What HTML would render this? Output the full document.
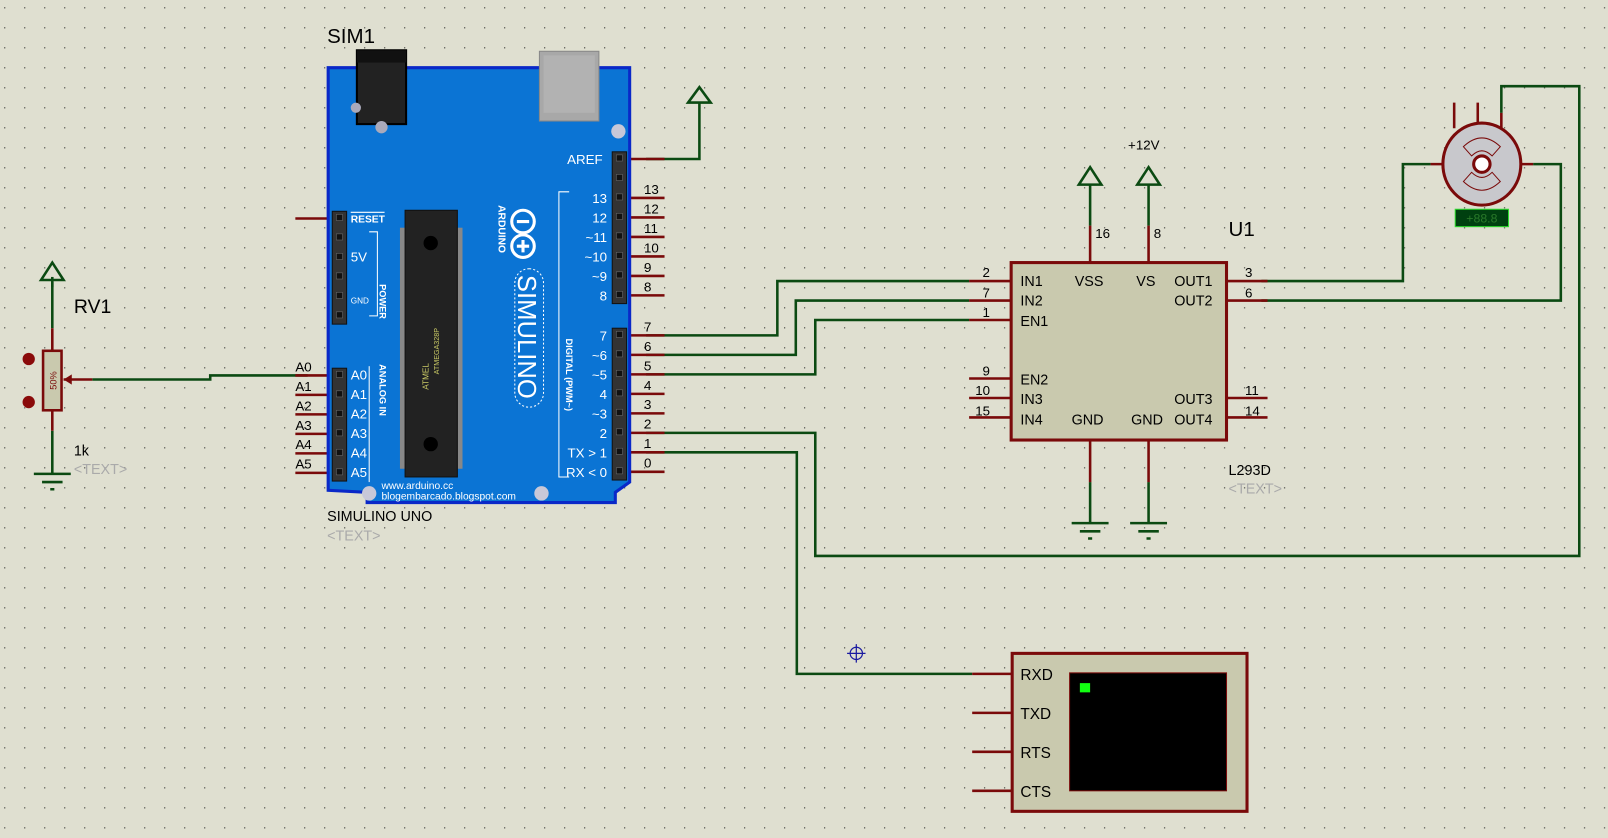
<!DOCTYPE html>
<html><head><meta charset="utf-8"><style>
html,body{margin:0;padding:0;background:#dfdfd0;overflow:hidden}
svg{display:block}
text{font-family:"Liberation Sans",sans-serif}
</style></head><body>
<svg width="1608" height="838" viewBox="0 0 1568 817" preserveAspectRatio="none" xmlns="http://www.w3.org/2000/svg">
<defs>
<pattern id="g" width="19.5" height="19.5" patternUnits="userSpaceOnUse" x="4" y="7">
<rect x="0" y="0" width="1.2" height="1.2" fill="#50504a"/>
</pattern>
</defs>
<rect width="1568" height="817" fill="#dfdfd0"/>
<rect width="1568" height="817" fill="url(#g)"/>

<g fill="none" stroke-width="2.5">
<!-- green wires -->
<g stroke="#0b4a12">
<polyline points="630,155 682,155 682,100"/>
<polyline points="630,327 758,327 758,274 945,274"/>
<polyline points="630,346 776,346 776,293 945,293"/>
<polyline points="630,365 795,365 795,312 945,312"/>
<polyline points="630,422 795,422 795,542 1540,542 1540,84 1464,84 1464,110"/>
<polyline points="630,441 777,441 777,657 948,657"/>
<polyline points="1230,274 1368,274 1368,160 1395,160"/>
<polyline points="1230,293 1522,293 1522,160 1495,160"/>
<polyline points="1063,220 1063,180"/><polyline points="1120,220 1120,180"/>
<polyline points="1063,470 1063,510"/><polyline points="1120,470 1120,510"/>
<polyline points="51,280 51,275"/>
<polyline points="51,320 51,270"/>
<polyline points="51,420 51,462"/>
<polyline points="90,370 205,370 205,366 300,366"/>
<path d="M1052,180 L1063,163 L1074,180 Z M1109,180 L1120,163 L1131,180 Z M671,100 L682,85 L693,100 Z M40,273 L51,256 L62,273 Z" />
<path d="M1045,510 H1081 M1053,518 H1073 M1061,525 H1065 M1102,510 H1138 M1110,518 H1130 M1118,525 H1122 M33,462 H69 M41,470 H61 M49,477 H53"/>
</g>
<!-- red stubs -->
<g stroke="#7a0a0a">
<path d="M610,155 H648 M610,193 H648 M610,212 H648 M610,231 H648 M610,250 H648 M610,269 H648 M610,288 H648"/>
<path d="M610,327 H648 M610,346 H648 M610,365 H648 M610,384 H648 M610,403 H648 M610,422 H648 M610,441 H648 M610,460 H648"/>
<path d="M288,213 H326 M288,366 H326 M288,385 H326 M288,404 H326 M288,423 H326 M288,442 H326 M288,461 H326"/>
<path d="M945,274 H985 M945,293 H985 M945,312 H985 M945,369 H985 M945,388 H985 M945,407 H985"/>
<path d="M1196,274 H1236 M1196,293 H1236 M1196,388 H1236 M1196,407 H1236"/>
<path d="M1063,220 V256 M1120,220 V256 M1063,429 V470 M1120,429 V470"/>
<path d="M948,657 H987 M948,695 H987 M948,733 H987 M948,771 H987"/>
<path d="M51,320 V342 M51,400 V420 M62,370 H90"/>
<path d="M1418,100 V125 M1441,100 V125 M1464,110 V125 M1395,160 H1410 M1480,160 H1495"/>
</g>
</g>

<!-- Arduino -->
<path d="M320,66 H614 V470 L600,480 V490 H358 V480 L320,478 Z" fill="#0b74d4" stroke="#0a28c8" stroke-width="3"/>
<rect x="348" y="49" width="48" height="72" fill="#222" stroke="#000" stroke-width="2"/>
<rect x="348" y="49" width="48" height="12" fill="#111"/>
<circle cx="372" cy="124" r="6" fill="#aab"/><circle cx="347" cy="105" r="5" fill="#aab"/>
<rect x="526" y="50" width="58" height="68" fill="#a8a8a8" stroke="#888"/>
<rect x="530" y="54" width="50" height="56" fill="#b2b2b2"/>
<circle cx="603" cy="128" r="7" fill="#c8c8d8"/>
<circle cx="360" cy="481" r="7" fill="#c8c8d8"/><circle cx="528" cy="481" r="7" fill="#c8c8d8"/>
<!-- headers -->
<rect x="597" y="148" width="14" height="148" fill="#333" stroke="#111"/>
<rect x="597" y="320" width="14" height="148" fill="#333" stroke="#111"/>
<rect x="324" y="206" width="14" height="110" fill="#333" stroke="#111"/>
<rect x="324" y="359" width="14" height="110" fill="#333" stroke="#111"/>
<g fill="#111" stroke="#666" stroke-width="0.6">
<rect x="601" y="151" width="6" height="6"/><rect x="601" y="170" width="6" height="6"/><rect x="601" y="189" width="6" height="6"/><rect x="601" y="208" width="6" height="6"/><rect x="601" y="227" width="6" height="6"/><rect x="601" y="246" width="6" height="6"/><rect x="601" y="265" width="6" height="6"/><rect x="601" y="284" width="6" height="6"/>
<rect x="601" y="323" width="6" height="6"/><rect x="601" y="342" width="6" height="6"/><rect x="601" y="361" width="6" height="6"/><rect x="601" y="380" width="6" height="6"/><rect x="601" y="399" width="6" height="6"/><rect x="601" y="418" width="6" height="6"/><rect x="601" y="437" width="6" height="6"/><rect x="601" y="456" width="6" height="6"/>
<rect x="328" y="209" width="6" height="6"/><rect x="328" y="228" width="6" height="6"/><rect x="328" y="247" width="6" height="6"/><rect x="328" y="266" width="6" height="6"/><rect x="328" y="285" width="6" height="6"/><rect x="328" y="304" width="6" height="6"/>
<rect x="328" y="362" width="6" height="6"/><rect x="328" y="381" width="6" height="6"/><rect x="328" y="400" width="6" height="6"/><rect x="328" y="419" width="6" height="6"/><rect x="328" y="438" width="6" height="6"/><rect x="328" y="457" width="6" height="6"/>
</g>
<!-- chip -->
<g fill="#888"><rect x="390" y="222" width="5" height="235"/><rect x="446" y="222" width="5" height="235"/></g>
<rect x="395" y="205" width="51" height="260" fill="#222" stroke="#111"/>
<circle cx="420" cy="237" r="7" fill="#000"/><circle cx="420" cy="433" r="7" fill="#000"/>
<text transform="translate(418,380) rotate(-90)" font-size="8" fill="#cc6">ATMEL</text>
<text transform="translate(428,365) rotate(-90)" font-size="7" fill="#cc6">ATMEGA328P</text>
<!-- logo -->
<circle cx="510" cy="216" r="11" fill="none" stroke="#fff" stroke-width="3"/>
<circle cx="510" cy="240" r="11" fill="none" stroke="#fff" stroke-width="3"/>
<path d="M504,216 H516 M504,240 H516 M510,234 V246" stroke="#fff" stroke-width="3"/>
<text transform="translate(486,200) rotate(90)" font-size="10" font-weight="bold" fill="#fff">ARDUINO</text>
<rect x="502" y="262" width="28" height="135" rx="14" fill="none" stroke="#fff" stroke-dasharray="2,2"/>
<text transform="translate(505,268) rotate(90)" font-size="25" fill="#fff">SIMULINO</text>
<text transform="translate(552,330) rotate(90)" font-size="9" font-weight="bold" fill="#fff">DIGITAL (PWM~)</text>
<path d="M555,187 H545 V465 H555" fill="none" stroke="#fff"/>
<path d="M360,226 H368 V308 H360" fill="none" stroke="#fff"/>
<text transform="translate(370,277) rotate(90)" font-size="9" font-weight="bold" fill="#fff">POWER</text>
<path d="M360,357 V470" fill="none" stroke="#fff"/>
<text transform="translate(370,355) rotate(90)" font-size="9" font-weight="bold" fill="#fff">ANALOG IN</text>
<g fill="#fff" font-size="13">
<text x="553" y="160">AREF</text>
<text x="592" y="198" text-anchor="end">13</text><text x="592" y="217" text-anchor="end">12</text><text x="592" y="236" text-anchor="end">~11</text><text x="592" y="255" text-anchor="end">~10</text><text x="592" y="274" text-anchor="end">~9</text><text x="592" y="293" text-anchor="end">8</text>
<text x="592" y="332" text-anchor="end">7</text><text x="592" y="351" text-anchor="end">~6</text><text x="592" y="370" text-anchor="end">~5</text><text x="592" y="389" text-anchor="end">4</text><text x="592" y="408" text-anchor="end">~3</text><text x="592" y="427" text-anchor="end">2</text><text x="592" y="446" text-anchor="end">TX &gt; 1</text><text x="592" y="465" text-anchor="end">RX &lt; 0</text>
<text x="342" y="255">5V</text>
<text x="342" y="370">A0</text><text x="342" y="389">A1</text><text x="342" y="408">A2</text><text x="342" y="427">A3</text><text x="342" y="446">A4</text><text x="342" y="465">A5</text>
</g>
<text x="342" y="217" font-size="10" font-weight="bold" fill="#fff">RESET</text>
<path d="M342,207 H375" stroke="#fff"/>
<text x="342" y="296" font-size="8" fill="#fff">GND</text>
<text x="372" y="477" font-size="10" fill="#fff">www.arduino.cc</text>
<text x="372" y="487" font-size="10" fill="#fff">blogembarcado.blogspot.com</text>

<g font-size="13" fill="#000">
<text x="628" y="189">13</text><text x="628" y="208">12</text><text x="628" y="227">11</text><text x="628" y="246">10</text><text x="628" y="265">9</text><text x="628" y="284">8</text>
<text x="628" y="323">7</text><text x="628" y="342">6</text><text x="628" y="361">5</text><text x="628" y="380">4</text><text x="628" y="399">3</text><text x="628" y="418">2</text><text x="628" y="437">1</text><text x="628" y="456">0</text>
<text x="288" y="362">A0</text><text x="288" y="381">A1</text><text x="288" y="400">A2</text><text x="288" y="419">A3</text><text x="288" y="438">A4</text><text x="288" y="457">A5</text>
</g>
<text x="319" y="42" font-size="20">SIM1</text>
<text x="319" y="508" font-size="14">SIMULINO UNO</text>
<text x="319" y="527" font-size="14" fill="#aaa">&lt;TEXT&gt;</text>

<!-- RV1 -->
<rect x="42" y="342" width="18" height="58" fill="#c9c9ae" stroke="#7a0a0a" stroke-width="2.5"/>
<path d="M62,370 L70,365 L70,375 Z" fill="#7a0a0a"/>
<text transform="translate(55,380) rotate(-90)" font-size="9" fill="#7a0a0a">50%</text>
<circle cx="28" cy="350" r="6" fill="#8a0a0a"/><circle cx="28" cy="392" r="6" fill="#8a0a0a"/>
<text x="72" y="305" font-size="19">RV1</text>
<text x="72" y="444" font-size="14">1k</text>
<text x="72" y="462" font-size="14" fill="#aaa">&lt;TEXT&gt;</text>

<!-- U1 -->
<rect x="986" y="256" width="210" height="173" fill="#c9c9ae" stroke="#7a0a0a" stroke-width="3"/>
<g font-size="14" fill="#000">
<text x="995" y="279">IN1</text><text x="995" y="298">IN2</text><text x="995" y="318">EN1</text>
<text x="995" y="375">EN2</text><text x="995" y="394">IN3</text><text x="995" y="414">IN4</text>
<text x="1048" y="279">VSS</text><text x="1108" y="279">VS</text>
<text x="1145" y="279">OUT1</text><text x="1145" y="298">OUT2</text><text x="1145" y="394">OUT3</text><text x="1145" y="414">OUT4</text>
<text x="1045" y="414">GND</text><text x="1103" y="414">GND</text>
</g>
<g font-size="13" fill="#000">
<text x="958" y="270">2</text><text x="958" y="290">7</text><text x="958" y="309">1</text>
<text x="958" y="366">9</text><text x="951" y="385">10</text><text x="951" y="405">15</text>
<text x="1214" y="270">3</text><text x="1214" y="290">6</text><text x="1214" y="385">11</text><text x="1214" y="405">14</text>
<text x="1068" y="232">16</text><text x="1125" y="232">8</text>
<text x="1100" y="146">+12V</text>
</g>
<text x="1198" y="230" font-size="20">U1</text>
<text x="1198" y="463" font-size="14">L293D</text>
<text x="1198" y="481" font-size="14" fill="#aaa">&lt;TEXT&gt;</text>

<!-- motor -->
<ellipse cx="1445" cy="160" rx="38" ry="40" fill="#c8c8cc" stroke="#7a0a0a" stroke-width="3"/>
<circle cx="1445" cy="160" r="8" fill="#fff" stroke="#7a0a0a" stroke-width="3"/>
<path d="M1427,143 Q1445,126 1463,143 L1455,152 Q1445,142 1435,152 Z M1427,177 Q1445,194 1463,177 L1455,168 Q1445,178 1435,168 Z" fill="none" stroke="#7a0a0a"/>
<rect x="1419" y="204" width="52" height="17" fill="#004010" stroke="#30e030"/>
<text x="1445" y="217" font-size="12" fill="#2a7a2a" text-anchor="middle">+88.8</text>

<!-- terminal -->
<rect x="987" y="637" width="229" height="154" fill="#c9c9ae" stroke="#7a0a0a" stroke-width="3"/>
<rect x="1043" y="656" width="153" height="115" fill="#000" stroke="#7a0a0a"/>
<rect x="1053" y="666" width="10" height="9" fill="#1f1"/>
<g font-size="15" fill="#000"><text x="995" y="663">RXD</text><text x="995" y="701">TXD</text><text x="995" y="739">RTS</text><text x="995" y="777">CTS</text></g>
<g stroke="#1a1aa0" fill="none" stroke-width="1.2"><circle cx="835" cy="637" r="6"/><path d="M826,637 H844 M835,628 V646"/></g>
</svg>
</body></html>
